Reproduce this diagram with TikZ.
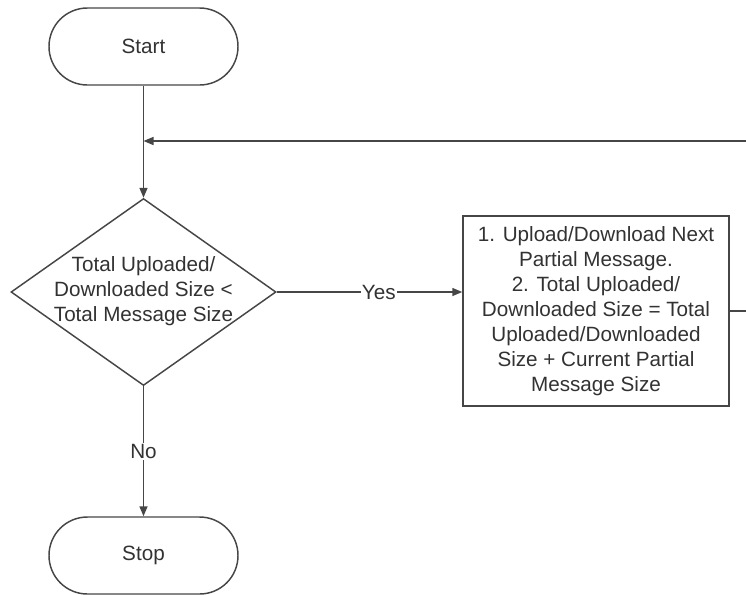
\documentclass[tikz,border=0pt]{standalone}
\usepackage{fontspec}
\setmainfont{Liberation Sans}
\usepackage{tikz}
\usepackage{xcolor}
\usetikzlibrary{shapes.geometric, arrows.meta}
\definecolor{fcline}{RGB}{70, 70, 70}
\definecolor{fctext}{RGB}{50, 50, 50}
\tikzset{
    fcbase/.style={draw=fcline, line width=1.1pt, text=fctext, font=\fontsize{15.5}{18.75}\selectfont, align=center},
    terminal/.style={fcbase, rectangle, rounded corners=28.8pt, minimum width=141.75pt, minimum height=57.75pt},
    decision/.style={fcbase, diamond, inner sep=0pt, minimum width=198.75pt, minimum height=140.25pt},
    process/.style={fcbase, rectangle, minimum width=199.5pt, minimum height=142.5pt},
    flowtext/.style={text=fctext, font=\fontsize{15.5}{18.75}\selectfont, align=center},
    flowline/.style={draw=fcline, line width=1.1pt, -{Triangle[length=7.5pt, width=6pt]}},
    plainline/.style={draw=fcline, line width=1.1pt},
    edgelabel/.style={flowtext, fill=white, inner sep=1pt}
}

\begin{document}
\begin{tikzpicture}[x=0.75pt, y=-0.75pt]
        \useasboundingbox (0,0) rectangle (746,594);
        \node[terminal] (start) at (143.5,46.5) {Start};
        \node[decision] (check) at (143.5,292) {};
        \node[flowtext] (checktext) at (143.5,291) {Total Uploaded/\\Downloaded Size <\\Total Message Size};
        \node[process] (transfer) at (596,311) {1. Upload/Download Next\\Partial Message.\\2. Total Uploaded/\\Downloaded Size = Total\\Uploaded/Downloaded\\Size + Current Partial\\Message Size};
        \node[terminal] (stop) at (143.5,555.5) {Stop};
        \coordinate (merge) at (143.5,141);
        \coordinate (loopin) at (746,141);
        \coordinate (loopout) at (746,311);
        % main flow
        \draw[flowline] (start) -- (check);
        \draw[flowline] (check.east) -- node[edgelabel, pos=0.55] {Yes} (check.east -| transfer.west);
        \draw[flowline] (check) -- node[edgelabel] {No} (stop);
        % loop back
        \draw[plainline] (transfer.east) -- (loopout);
        \draw[flowline] (loopin) -- (merge);
\end{tikzpicture}
\end{document}
